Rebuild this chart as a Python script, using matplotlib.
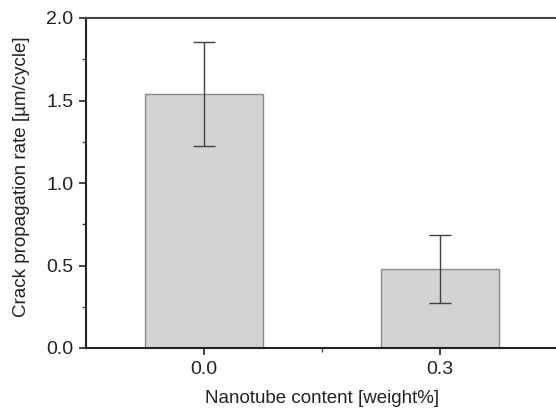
import matplotlib.pyplot as plt

plt.rcParams['font.family'] = ['Liberation Sans', 'DejaVu Sans']

# nanotube content (weight%) vs crack propagation rate
content = [0.0, 0.3]
rate = [1.54, 0.48]
rate_err = [0.315, 0.205]

fig = plt.figure(figsize=(5.56, 4.09), dpi=100)
ax = fig.add_axes([86 / 556, 1 - 348 / 409, 472 / 556, 330 / 409])

ax.bar(content, rate, width=0.15, color='#d3d3d3', edgecolor='#8a8a8a', linewidth=1.0)
ax.errorbar(content, rate, yerr=rate_err, fmt='none', ecolor='#404040',
            elinewidth=1.0, capsize=8, capthick=1.0)

ax.set_xlim(-0.15, 0.45)
ax.set_ylim(0, 2.0)
ax.set_xticks(content)
ax.set_xticklabels(['0.0', '0.3'])
ax.set_xticks([0.15], minor=True)
ax.set_yticks([0.0, 0.5, 1.0, 1.5, 2.0])
ax.set_yticklabels(['0.0', '0.5', '1.0', '1.5', '2.0'])
ax.set_yticks([0.25, 0.75, 1.25, 1.75], minor=True)

ax.spines['right'].set_visible(False)
for s in ['left', 'bottom', 'top']:
    ax.spines[s].set_linewidth(1.5)
    ax.spines[s].set_color('#222222')
ax.spines['top'].set_color('#444444')

ax.tick_params(which='major', direction='out', length=5, width=1.2, labelsize=14,
               colors='#222222', pad=4)
ax.tick_params(which='minor', direction='out', length=3, width=1.0, colors='#444444')
ax.tick_params(axis='x', which='both', top=False)

ax.set_xlabel('Nanotube content [weight%]', fontsize=13.5, color='#222222', labelpad=9)
ax.set_ylabel('Crack propagation rate [µm/cycle]', fontsize=13.5, color='#222222')
ax.yaxis.set_label_coords(-0.118, 0.518)

fig.savefig('out.png', dpi=100)
